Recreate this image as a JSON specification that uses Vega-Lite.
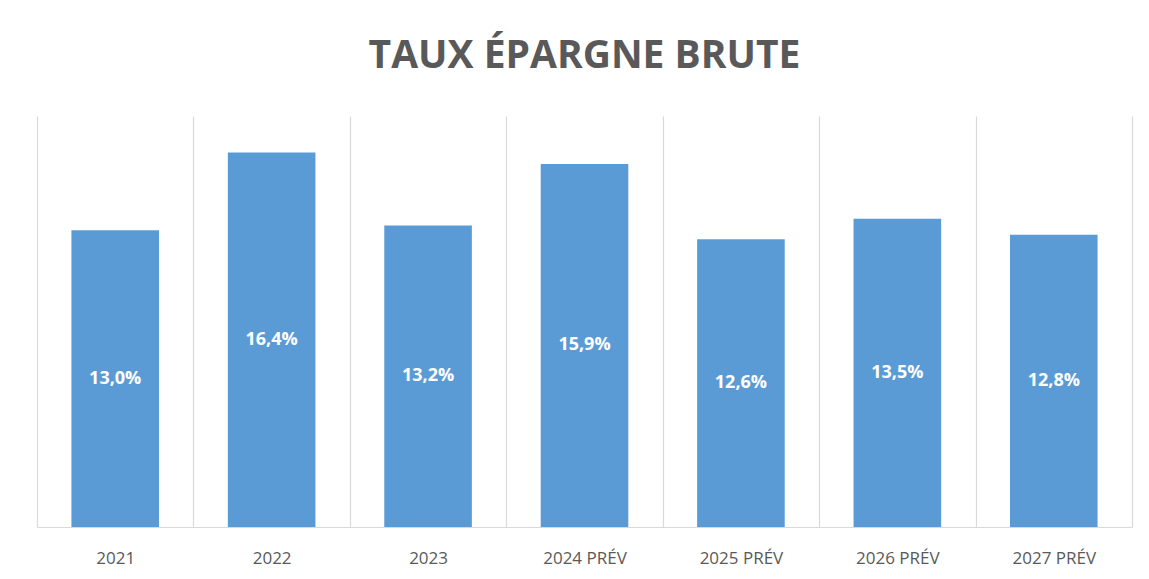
{
  "$schema": "https://vega.github.io/schema/vega-lite/v6.json",
  "width": 1095,
  "height": 411,
  "autosize": "none",
  "padding": {"left": 37, "top": 116, "right": 17, "bottom": 52},
  "background": "white",
  "title": {
    "text": "TAUX ÉPARGNE BRUTE",
    "font": "Open Sans",
    "fontSize": 39,
    "fontWeight": "bold",
    "color": "#595959",
    "anchor": "middle",
    "baseline": "alphabetic",
    "offset": 9
  },
  "data": {
    "values": [
      {"annee": "2021", "taux": 13.0, "label": "13,0%"},
      {"annee": "2022", "taux": 16.4, "label": "16,4%"},
      {"annee": "2023", "taux": 13.2, "label": "13,2%"},
      {"annee": "2024 PRÉV", "taux": 15.9, "label": "15,9%"},
      {"annee": "2025 PRÉV", "taux": 12.6, "label": "12,6%"},
      {"annee": "2026 PRÉV", "taux": 13.5, "label": "13,5%"},
      {"annee": "2027 PRÉV", "taux": 12.8, "label": "12,8%"}
    ]
  },
  "layer": [
    {
      "mark": {"type": "bar", "color": "#5B9BD5", "width": {"band": 0.56}},
      "encoding": {
        "x": {
          "field": "annee",
          "type": "nominal",
          "sort": null,
          "scale": {"paddingInner": 0, "paddingOuter": 0},
          "axis": {
            "title": null,
            "labelAngle": 0,
            "tickBand": "extent",
            "grid": true,
            "gridColor": "#d9d9d9",
            "gridWidth": 1.2,
            "domainColor": "#d9d9d9",
            "domainWidth": 1.2,
            "ticks": false,
            "tickSize": 0,
            "labelFont": "Open Sans",
            "labelFontSize": 17,
            "labelColor": "#595959",
            "labelPadding": 36,
            "labelBaseline": "alphabetic"
          }
        },
        "y": {
          "field": "taux",
          "type": "quantitative",
          "scale": {"domain": [0, 18]},
          "axis": null
        }
      }
    },
    {
      "mark": {"type": "text", "color": "white", "font": "Open Sans", "fontSize": 18, "fontWeight": "bold", "baseline": "middle"},
      "encoding": {
        "x": {"field": "annee", "type": "nominal", "sort": null},
        "y": {
          "field": "taux",
          "type": "quantitative",
          "scale": {"domain": [0, 36]},
          "axis": null
        },
        "text": {"field": "label"}
      }
    }
  ],
  "resolve": {"scale": {"y": "independent"}},
  "config": {
    "view": {"stroke": null}
  }
}
